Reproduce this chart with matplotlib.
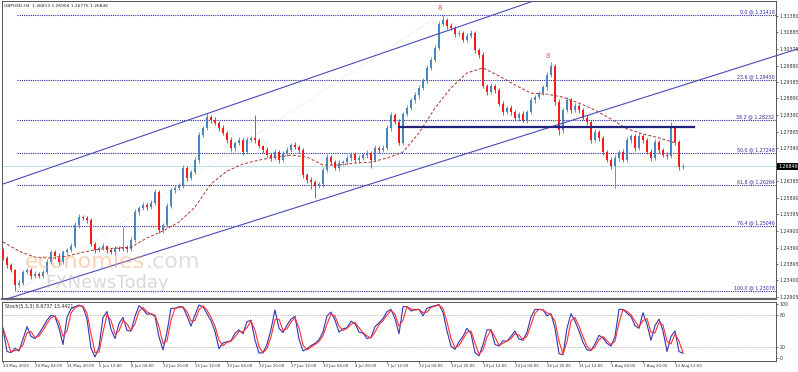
# GBPUSD H4 chart with fibo levels, channel and stochastic

import numpy as np
import pandas as pd
import matplotlib
matplotlib.use("Agg")
import matplotlib.pyplot as plt

symbol_info = "GBPUSD,H4  1.26813 1.26904 1.26775 1.26846"
stoch_info = "Stoch(5,3,3) 8.6737 13.4421"

# candles (each one covers two H4 bars), open = previous close
first_open = 1.2431
close = [
    1.2407, 1.2386, 1.2371, 1.2326, 1.2332, 1.2365, 1.2371, 1.2353, 1.2359, 1.2353,
    1.2365, 1.2395, 1.2425, 1.2413, 1.2395, 1.2425, 1.2431, 1.2443, 1.2507, 1.2531,
    1.2528, 1.2522, 1.2449, 1.2431, 1.2437, 1.2443, 1.2431, 1.2425, 1.2437, 1.2434,
    1.2440, 1.2434, 1.2462, 1.2546, 1.2558, 1.2567, 1.2561, 1.2573, 1.2606, 1.2492,
    1.2507, 1.2564, 1.2613, 1.2619, 1.2628, 1.2679, 1.2649, 1.2667, 1.2703, 1.2779,
    1.2800, 1.2833, 1.2824, 1.2815, 1.2800, 1.2785, 1.2764, 1.2739, 1.2755, 1.2764,
    1.2727, 1.2764, 1.2770, 1.2764, 1.2745, 1.2733, 1.2718, 1.2709, 1.2727, 1.2703,
    1.2724, 1.2733, 1.2748, 1.2742, 1.2733, 1.2658, 1.2643, 1.2637, 1.2625, 1.2631,
    1.2673, 1.2712, 1.2697, 1.2679, 1.2694, 1.2697, 1.2709, 1.2721, 1.2703, 1.2709,
    1.2718, 1.2724, 1.2703, 1.2739, 1.2733, 1.2739, 1.2800, 1.2839, 1.2818, 1.2755,
    1.2842, 1.2860, 1.2884, 1.2899, 1.2921, 1.2945, 1.2981, 1.3005, 1.3041, 1.3114,
    1.3126, 1.3108, 1.3102, 1.3084, 1.3087, 1.3066, 1.3078, 1.3087, 1.3035, 1.3020,
    1.2927, 1.2908, 1.2927, 1.2915, 1.2872, 1.2848, 1.2860, 1.2848, 1.2830, 1.2842,
    1.2824, 1.2848, 1.2884, 1.2893, 1.2905, 1.2924, 1.2960, 1.2987, 1.2878, 1.2794,
    1.2854, 1.2884, 1.2854, 1.2866, 1.2854, 1.2830, 1.2818, 1.2764, 1.2788, 1.2770,
    1.2727, 1.2703, 1.2685, 1.2709, 1.2727, 1.2703, 1.2764, 1.2776, 1.2739, 1.2776,
    1.2764, 1.2727, 1.2709, 1.2758, 1.2733, 1.2718, 1.2715, 1.2800, 1.2758, 1.26813,
    1.26846,
]
# wicks in pips
upper_wick = [
    8, 5, 6, 4, 9, 6, 7, 5, 8, 6,
    7, 9, 6, 5, 8, 6, 7, 9, 10, 8,
    6, 5, 7, 6, 8, 9, 5, 6, 7, 8,
    60, 6, 9, 8, 7, 10, 6, 8, 9, 6,
    7, 8, 6, 9, 5, 10, 7, 6, 9, 8,
    7, 12, 6, 8, 7, 9, 6, 8, 7, 9,
    5, 8, 6, 70, 7, 5, 8, 6, 9, 5,
    7, 8, 6, 9, 7, 6, 5, 8, 6, 7,
    9, 10, 6, 5, 8, 7, 9, 6, 7, 8,
    6, 8, 7, 9, 6, 8, 10, 9, 7, 8,
    6, 8, 7, 9, 8, 6, 9, 8, 10, 9,
    16, 7, 9, 6, 8, 7, 9, 8, 6, 7,
    8, 6, 9, 7, 5, 8, 6, 9, 7, 6,
    8, 7, 9, 6, 8, 7, 9, 12, 6, 8,
    7, 9, 6, 8, 7, 6, 9, 7, 8, 6,
    7, 5, 8, 9, 6, 8, 10, 7, 6, 9,
    7, 6, 8, 9, 7, 6, 8, 18, 7, 5,
    6,
]
lower_wick = [
    6, 8, 7, 18, 6, 7, 5, 8, 6, 7,
    5, 7, 6, 8, 9, 6, 7, 5, 6, 8,
    7, 9, 6, 8, 7, 5, 8, 6, 9, 7,
    6, 8, 7, 5, 9, 6, 8, 7, 5, 9,
    8, 6, 7, 9, 6, 8, 10, 7, 6, 8,
    5, 7, 9, 6, 8, 7, 9, 10, 8, 6,
    9, 7, 6, 8, 7, 9, 6, 8, 7, 9,
    6, 8, 7, 5, 9, 8, 10, 20, 37, 6,
    8, 7, 9, 6, 8, 7, 6, 9, 7, 8,
    7, 9, 24, 6, 8, 7, 5, 8, 6, 7,
    8, 6, 7, 9, 12, 6, 8, 7, 6, 5,
    6, 8, 7, 9, 6, 8, 7, 6, 9, 8,
    7, 9, 6, 8, 7, 9, 6, 8, 7, 9,
    6, 8, 7, 9, 6, 7, 8, 6, 9, 15,
    8, 7, 9, 6, 8, 7, 9, 8, 6, 9,
    8, 7, 9, 66, 8, 7, 6, 9, 8, 7,
    9, 6, 8, 7, 9, 6, 8, 7, 9, 8,
    4,
]

# moving average, one value every 4 candles
ma_step = 4
ma_values = [
    1.2456, 1.2428, 1.2410, 1.2407, 1.2413, 1.2425, 1.2434, 1.2437, 1.2440, 1.2468,
    1.2489, 1.2516, 1.2561, 1.2631, 1.2670, 1.2691, 1.2703, 1.2712, 1.2718, 1.2712,
    1.2688, 1.2688, 1.2694, 1.2697, 1.2709, 1.2727, 1.2785, 1.2860, 1.2921, 1.2966,
    1.2981, 1.2957, 1.2930, 1.2905, 1.2902, 1.2893, 1.2875, 1.2854, 1.2827, 1.2797,
    1.2782, 1.2770, 1.2755,
]

stoch_k = [
    55, 12, 10, 18, 13, 35, 58, 40, 36, 45,
    57, 70, 79, 77, 55, 25, 75, 91, 95, 98,
    94, 72, 18, 2, 20, 75, 86, 53, 36, 64,
    75, 51, 50, 77, 97, 90, 81, 82, 77, 39,
    15, 48, 92, 92, 95, 94, 78, 59, 80, 98,
    95, 82, 69, 49, 17, 28, 30, 32, 46, 52,
    45, 67, 70, 33, 9, 10, 25, 53, 89, 55,
    47, 61, 72, 77, 35, 13, 17, 23, 27, 34,
    48, 78, 85, 70, 48, 54, 56, 68, 64, 48,
    46, 36, 38, 58, 65, 73, 86, 90, 73, 45,
    95, 95, 87, 90, 90, 78, 92, 95, 97, 99,
    84, 50, 22, 16, 30, 40, 55, 45, 10, 4,
    25, 52, 52, 25, 22, 32, 31, 40, 50, 35,
    33, 48, 76, 90, 90, 89, 78, 82, 55, 8,
    6, 55, 82, 68, 50, 29, 15, 14, 26, 42,
    37, 27, 22, 40, 90, 90, 83, 77, 60, 55,
    84, 62, 33, 60, 72, 50, 12, 40, 50, 12,
    8.67,
]
stoch_levels = [20, 80]
stoch_ticks = [100, 80, 20, 0]

fib_high, fib_low = 1.31418, 1.23078
fib_pcts = [0.0, 23.6, 38.2, 50.0, 61.8, 76.4, 100.0]
fib_start = 3.5

# trend objects: (candle index, price)
upper_channel = [(0, 1.26307), (130, 1.31724)]
lower_channel = [(0, 1.22799), (190, 1.30055)]
fib_trend = [(3.5, 1.23078), (109.25, 1.31418)]
resistance = (99, 172.75, 1.2803)
last_price = 1.26846

price_ticks = [1.31380, 1.30885, 1.30375, 1.29880, 1.29385, 1.28890, 1.28380,
               1.27885, 1.27390, 1.26385, 1.25890, 1.25395, 1.24900, 1.24390,
               1.23895, 1.23400, 1.22905]

date_labels = ["24 May 2023", "29 May 04:00", "31 May 20:00", "5 Jun 12:00",
               "8 Jun 04:00", "12 Jun 20:00", "15 Jun 12:00", "20 Jun 04:00",
               "22 Jun 20:00", "27 Jun 12:00", "30 Jun 04:00", "4 Jul 20:00",
               "7 Jul 12:00", "12 Jul 04:00", "14 Jul 20:00", "19 Jul 12:00",
               "24 Jul 04:00", "26 Jul 20:00", "31 Jul 12:00", "3 Aug 04:00",
               "7 Aug 20:00", "10 Aug 12:00"]
date_step = 8

BULL = "#4a86c0"
BEAR = "#f41c1c"
NAVY = "#2a2a9a"
FS = 3.4

W, H = 798, 372
fig = plt.figure(figsize=(W / 100, H / 100), dpi=100)
fig.patch.set_facecolor("white")
ax = fig.add_axes([2 / W, 1 - 299 / H, 774 / W, 298 / H])
ax2 = fig.add_axes([2 / W, 1 - 361 / H, 774 / W, 59 / H])
xlim = (-0.25, 193.25)

# ---- main panel
c = np.array(close)
o = np.r_[first_open, c[:-1]]
hi = np.maximum(o, c) + np.array(upper_wick) * 1e-4
lo = np.minimum(o, c) - np.array(lower_wick) * 1e-4
idx = np.arange(len(c))
col = np.where(c >= o, BULL, BEAR)

ax.axhline(last_price, color="#bfe3ec", lw=0.8, zorder=1)

fib_prices = [fib_high - p / 100 * (fib_high - fib_low) for p in fib_pcts]
for p, v in zip(fib_pcts, fib_prices):
    ax.plot([fib_start, xlim[1]], [v, v], color=NAVY, lw=0.8, ls=(0, (1, 1)), zorder=2)
    ax.text(0.998, v + 0.0002, f"{p:.1f} @ {v:.5f}", transform=ax.get_yaxis_transform(),
            ha="right", va="bottom", fontsize=FS, color=NAVY)

ax.plot(*zip(*fib_trend), color="#d9d9d9", lw=0.6, ls=(0, (1, 1.5)), zorder=2)

ax.vlines(idx, lo, hi, colors=col, lw=0.6, zorder=3)
body = np.maximum(np.abs(c - o), 0.00008)
ax.bar(idx, body, bottom=np.minimum(o, c), width=0.62, color=col, linewidth=0, zorder=4)

ma_x = np.arange(len(ma_values)) * ma_step
ax.plot(ma_x, ma_values, color="#a8352c", lw=0.7, ls=(0, (3, 2)), zorder=5)

def line_at(anchor, x):
    (x0, y0), (x1, y1) = anchor
    return y0 + (y1 - y0) * (x - x0) / (x1 - x0)

ux = np.array([xlim[0], 140])
ax.plot(ux, line_at(upper_channel, ux), color="#4b4bb8", lw=0.8, zorder=5)
lx = np.array([1.0, 198.75])
ax.plot(lx, line_at(lower_channel, lx), color="#4b4bb8", lw=0.8, zorder=5, clip_on=False)

ax.plot([resistance[0], resistance[1]], [resistance[2]] * 2, color="#23237f", lw=1.6, zorder=6)

# fractal marks
for i in (110, 137):
    ax.annotate("8", (i, hi[i]), xytext=(-2.5, 2.5), textcoords="offset points",
                ha="center", va="bottom", fontsize=5, color="#e86060")

ax.set_xlim(*xlim)
ax.set_ylim(1.22835, 1.31833)
ax.set_xticks([])
ax.yaxis.tick_right()
ax.set_yticks(price_ticks)
ax.set_yticklabels([f"{v:.5f}" for v in price_ticks])
ax.tick_params(axis="y", labelsize=FS, length=1.5, pad=1, colors="#333333", width=0.5)
ax.text(1.003, last_price, f"{last_price:.5f}", transform=ax.get_yaxis_transform(),
        ha="left", va="center", fontsize=FS, color="white", clip_on=False,
        bbox=dict(facecolor="black", edgecolor="none", pad=0.7))
for s in ax.spines.values():
    s.set_color("#555555")
    s.set_linewidth(0.7)
ax.spines["bottom"].set_linewidth(1.6)
ax.spines["bottom"].set_color("#666666")

fig.text(4 / W, 1 - 6 / H, symbol_info, fontsize=3.2, color="#222222", va="center")

# watermark
rend = fig.canvas.get_renderer()
t1 = fig.text(25 / W, 1 - 268 / H, "economies", fontsize=16, color="#f5a874",
              alpha=0.5, va="baseline", zorder=10)
bb = t1.get_window_extent(renderer=rend)
fig.text(bb.x1 / W, 1 - 268 / H, ".com", fontsize=16, color="#bdbdbd", alpha=0.5,
         va="baseline", zorder=10)
fig.text(45 / W, 1 - 288 / H, "FXNewsToday", fontsize=13, color="#b5b5b5", alpha=0.5,
         va="baseline", zorder=10)

# ---- stochastic panel
k = pd.Series(stoch_k, dtype=float)
d = k.rolling(2, min_periods=1).mean()
for lv in stoch_levels:
    ax2.axhline(lv, color="#b4b4b4", lw=0.6, ls=(0, (1.5, 1.5)))
ax2.plot(idx, k, color="#3434b4", lw=0.8)
ax2.plot(idx, d, color="#ff3030", lw=0.8)
ax2.set_xlim(*xlim)
ax2.set_ylim(-5.6, 103.7)
ax2.yaxis.tick_right()
ax2.set_yticks(stoch_ticks)
ax2.set_yticklabels([str(v) for v in stoch_ticks])
ax2.tick_params(axis="y", labelsize=FS, length=1.5, pad=1, colors="#333333", width=0.5)
ax2.set_xticks(np.arange(len(date_labels)) * date_step)
ax2.set_xticklabels(date_labels)
ax2.tick_params(axis="x", labelsize=2.9, length=1.5, pad=1, colors="#333333", width=0.5)
for lbl in ax2.get_xticklabels():
    lbl.set_ha("left")
for s in ax2.spines.values():
    s.set_color("#555555")
    s.set_linewidth(0.7)
ax2.text(0.004, 0.97, stoch_info, transform=ax2.transAxes, fontsize=FS, color="#222222",
         ha="left", va="top")

fig.savefig("out.png", dpi=100)
